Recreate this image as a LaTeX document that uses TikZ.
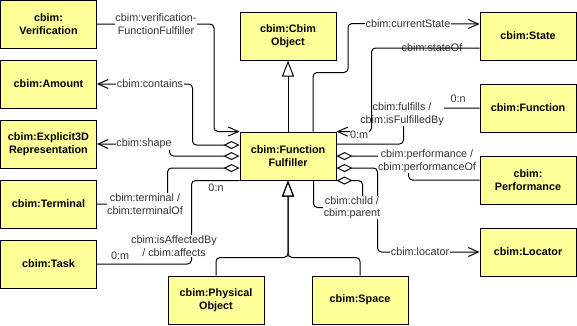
\documentclass[tikz,border=0pt]{standalone}
\usepackage{fontspec}
\setmainfont{Liberation Sans}
\usetikzlibrary{arrows.meta, positioning}
\definecolor{classfill}{HTML}{FFFF99}

\begin{document}
\begin{tikzpicture}[x=1pt, y=-1pt,
    class/.style={draw, line width=1pt, fill=classfill, minimum width=96pt, minimum height=48pt,
        inner sep=2pt, align=center, font=\fontsize{10.8}{13}\selectfont\bfseries},
    role/.style={fill=white, inner sep=0.5pt, align=center, text=black!80,
        font=\fontsize{10.8}{12.5}\selectfont},
    conn/.style={line width=1pt, rounded corners=4pt},
    assoc/.style={conn, -{Straight Barb[length=10pt, width=9pt]}},
    agg/.style={conn, {Diamond[open, length=16pt, width=8pt]}-},
    aggto/.style={conn, {Diamond[open, length=16pt, width=8pt]}-{Straight Barb[length=10pt, width=9pt]}},
    gen/.style={conn, -{Triangle[open, length=16pt, width=12pt]}}]
    \useasboundingbox (0,0) rectangle (577,325);

    % Define the classes
    \node[class] (ver)   at (48.5,24)  {cbim:\\Verification};
    \node[class] (amt)   at (48.5,84)  {cbim:Amount};
    \node[class] (rep)   at (48.5,144) {cbim:Explicit3D\\Representation};
    \node[class] (term)  at (48.5,204) {cbim:Terminal};
    \node[class] (task)  at (48.5,264) {cbim:Task};
    \node[class] (obj)   at (288,36)   {cbim:Cbim\\Object};
    \node[class] (ff)    at (288,156)  {cbim:Function\\Fulfiller};
    \node[class] (state) at (528,36)   {cbim:State};
    \node[class] (func)  at (528,108)  {cbim:Function};
    \node[class] (perf)  at (528,180)  {cbim:\\Performance};
    \node[class] (loc)   at (528,252)  {cbim:Locator};
    \node[class] (phys)  at (216,300)  {cbim:Physical\\Object};
    \node[class] (space) at (360,300)  {cbim:Space};

    % Draw the generalisations
    \draw[gen] (ff.north) -- (obj.south);
    \draw[gen] (phys.north) -- ++(0,-18) -| (ff.south);
    \draw[gen] (space.north) -- ++(0,-18) -| (ff.south);

    % Draw the associations on the left
    \draw[assoc] (ver.east) -- ++(117,0) |- (ff.north west);
    \draw[aggto] ([yshift=11pt]ff.west) -- ++(-47,0) |- (amt.east);
    \draw[aggto] (ff.west) -- ++(-70,0) |- (rep.east);
    \draw[agg] ([yshift=-12pt]ff.west) -- ++(-72,0) |- (term.east);
    \draw[conn] (ff.south west) -- ++(-48,0) |- (task.east);

    % Draw the associations on the right
    \draw[assoc] ([xshift=25pt]ff.north) -- ++(0,-59) -| ++(35,-49) -- ([yshift=12pt]state.west);
    \draw[conn] ([yshift=12pt]ff.east) -| ++(67,-36) |- (func.west);
    \draw[agg] (ff.east) -| ++(72,24) -- (perf.west);
    \draw[aggto] ([yshift=-12pt]ff.east) -| ++(41,84) -- (loc.west);
    \draw[conn, -{Diamond[open, length=16pt, width=8pt]}] ([xshift=-23pt]ff.south east)
        -- ++(0,27) -| ++(49,-27) -- (ff.south east);

    % Role names and multiplicities
    \node[role] (verlbl)      at (156,24)  {cbim:verification-\\FunctionFulfiller};
    \node[role] (containslbl) at (150,84)  {cbim:contains};
    \node[role] (shapelbl)    at (144,144) {cbim:shape};
    \node[role] (termlbl)     at (145,204) {cbim:terminal /\\cbim:terminalOf};
    \node[role] (tasklbl)     at (174,246) {cbim:isAffectedBy\\/ cbim:affects};
    \node[role] (taskm)       at (120,256) {0:m};
    \node[role] (taskn)       at (216,188) {0:n};
    \node[role] (curlbl)      at (408,24)  {cbim:currentState};
    \node[role] (stoflbl)     at (432,48)  {cbim:stateOf};
    \node[role] (fulfilllbl)  at (402,114) {cbim:fulfills /\\cbim:isFulfilledBy};
    \node[role] (funcn)       at (458,99)  {0:n};
    \node[role] (perflbl)     at (427,161) {cbim:performance /\\cbim:performanceOf};
    \node[role] (childlbl)    at (352,207.5) {cbim:child /\\cbim:parent};
    \node[role] (loclbl)      at (420,252) {cbim:locator};

    % stateOf runs across the fulfills label
    \draw[assoc] ([yshift=-12pt]state.west) -| ++(-108,84) -- (ff.north east);
    \node[role] (stofm) at (359,135) {0:m};
\end{tikzpicture}
\end{document}
